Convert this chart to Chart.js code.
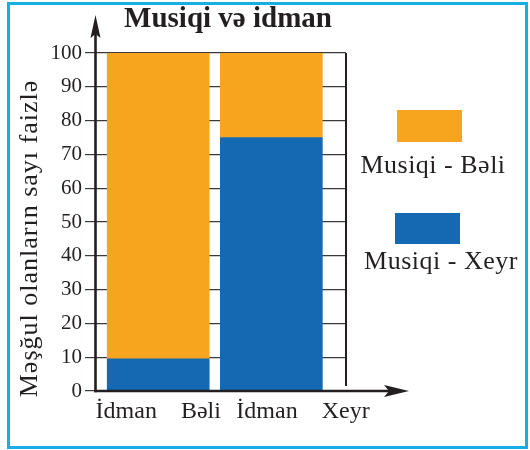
<!DOCTYPE html>
<html lang="az">
<head>
<meta charset="utf-8">
<title>Musiqi və idman</title>
<script src="https://cdn.jsdelivr.net/npm/chart.js@4.4.1/dist/chart.umd.min.js"></script>
<style>
  html, body { margin: 0; padding: 0; background: #fff; }
  canvas { display: block; }
</style>
</head>
<body>
<canvas id="chart" width="530" height="450"></canvas>
<script>
// Chart text
const chartTitle = 'Musiqi və idman';
const yAxisTitle = 'Məşğul olanların sayı faizlə';

// Categories (x axis) and the two stacked series, in percent
const categories = ['İdman Bəli', 'İdman Xeyr'];
const musiqiXeyr = [9.5, 75];    // lower (blue) segment
const musiqiBeli = [90.5, 25];   // upper (orange) segment
const seriesNames = { beli: 'Musiqi - Bəli', xeyr: 'Musiqi - Xeyr' };

// Value axis
const yMin = 0;
const yMax = 100;
const yStep = 10;

const INK = '#231f20';
const SERIF = '"Liberation Serif", "Times New Roman", serif';
const ORANGE = '#f7a41e';
const BLUE = '#1569b3';

// Solid arrowhead with a small notch at the back
function arrowHead(ctx, tipX, tipY, dx, dy, len, half, notch) {
  const bx = tipX - dx * len, by = tipY - dy * len;
  const nx = tipX - dx * notch, ny = tipY - dy * notch;
  const px = -dy, py = dx;
  ctx.beginPath();
  ctx.moveTo(tipX, tipY);
  ctx.lineTo(bx + px * half, by + py * half);
  ctx.lineTo(nx, ny);
  ctx.lineTo(bx - px * half, by - py * half);
  ctx.closePath();
  ctx.fill();
}

const decor = {
  id: 'decor',
  beforeDraw(chart) {
    const ctx = chart.ctx;
    ctx.save();
    ctx.fillStyle = '#fff';
    ctx.fillRect(0, 0, chart.width, chart.height);
    ctx.restore();
  },
  afterDraw(chart) {
    const { ctx, chartArea: a } = chart;
    ctx.save();

    // outer frame
    ctx.strokeStyle = '#17ade7';
    ctx.lineWidth = 3;
    ctx.strokeRect(8.5, 3.5, 518, 444);

    // closing line on the right of the plot
    ctx.strokeStyle = INK;
    ctx.lineWidth = 2;
    ctx.beginPath();
    ctx.moveTo(a.right, a.top);
    ctx.lineTo(a.right, a.bottom - 5);
    ctx.stroke();

    // axes with arrows
    ctx.fillStyle = INK;
    ctx.lineWidth = 2.6;
    const ax = a.left - 0.5;
    ctx.beginPath();
    ctx.moveTo(ax, a.bottom + 1.3);
    ctx.lineTo(ax, 34);
    ctx.stroke();
    arrowHead(ctx, ax, 15, 0, -1, 23, 5, 19);

    ctx.beginPath();
    ctx.moveTo(ax - 1.3, a.bottom);
    ctx.lineTo(392, a.bottom);
    ctx.stroke();
    arrowHead(ctx, 409, a.bottom, 1, 0, 25, 6, 20);

    // title
    ctx.font = 'bold 29px ' + SERIF;
    ctx.textAlign = 'center';
    ctx.textBaseline = 'alphabetic';
    ctx.fillText(chartTitle, 228, 27);

    // y axis title
    ctx.save();
    ctx.translate(36.5, 238.5);
    ctx.rotate(-Math.PI / 2);
    ctx.font = '26px ' + SERIF;
    ctx.letterSpacing = '1px';
    ctx.fillText(yAxisTitle, 0, 0);
    ctx.restore();

    // legend: swatch above its label
    const items = [
      { ds: chart.data.datasets[1], box: [397, 110, 65, 32], tx: 433, ty: 173 },
      { ds: chart.data.datasets[0], box: [395, 213, 65, 31], tx: 441, ty: 269 }
    ];
    ctx.font = '26px ' + SERIF;
    ctx.letterSpacing = '0.5px';
    items.forEach(it => {
      ctx.fillStyle = it.ds.backgroundColor;
      ctx.fillRect(...it.box);
      ctx.fillStyle = INK;
      ctx.fillText(it.ds.label, it.tx, it.ty);
    });

    ctx.restore();
  }
};

// horizontal shift of each category label relative to its bar (in category units)
const labelShift = [0, 0.28];

new Chart(document.getElementById('chart'), {
  type: 'bar',
  data: {
    datasets: [
      {
        label: seriesNames.xeyr,
        data: musiqiXeyr.map((v, i) => ({ x: i + 1, y: v })),
        backgroundColor: BLUE,
        borderWidth: 0,
        barThickness: 102
      },
      {
        label: seriesNames.beli,
        data: musiqiBeli.map((v, i) => ({ x: i + 1, y: v })),
        backgroundColor: ORANGE,
        borderWidth: 0,
        barThickness: 102
      }
    ]
  },
  options: {
    responsive: false,
    animation: false,
    devicePixelRatio: 1,
    layout: { padding: { top: 53, right: 184, left: 0, bottom: 0 } },
    plugins: {
      legend: { display: false },
      title: { display: false },
      tooltip: { enabled: false }
    },
    scales: {
      x: {
        type: 'linear',
        stacked: true,
        offset: false,
        bounds: 'data',
        min: 0.45,
        max: 2.66,
        grid: { display: false, drawTicks: false, offset: false },
        border: { display: false },
        afterBuildTicks: (scale) => {
          scale.ticks = categories.map((c, i) => ({ value: i + 1 + labelShift[i] }));
        },
        afterFit: (scale) => { scale.height = 59; },
        ticks: {
          autoSkip: false,
          maxRotation: 0,
          padding: 6,
          color: INK,
          font: { family: SERIF, size: 24 },
          callback: (value, index) => categories[index].replace(' ', '    ')
        }
      },
      y: {
        stacked: true,
        min: yMin,
        max: yMax,
        afterFit: (scale) => { scale.width = 96; },
        grid: { color: '#3a3a3a', lineWidth: 1.2, tickLength: 11 },
        border: { display: false },
        ticks: {
          stepSize: yStep,
          padding: 3,
          color: INK,
          font: { family: SERIF, size: 21 }
        }
      }
    }
  },
  plugins: [decor]
});
</script>
</body>
</html>
